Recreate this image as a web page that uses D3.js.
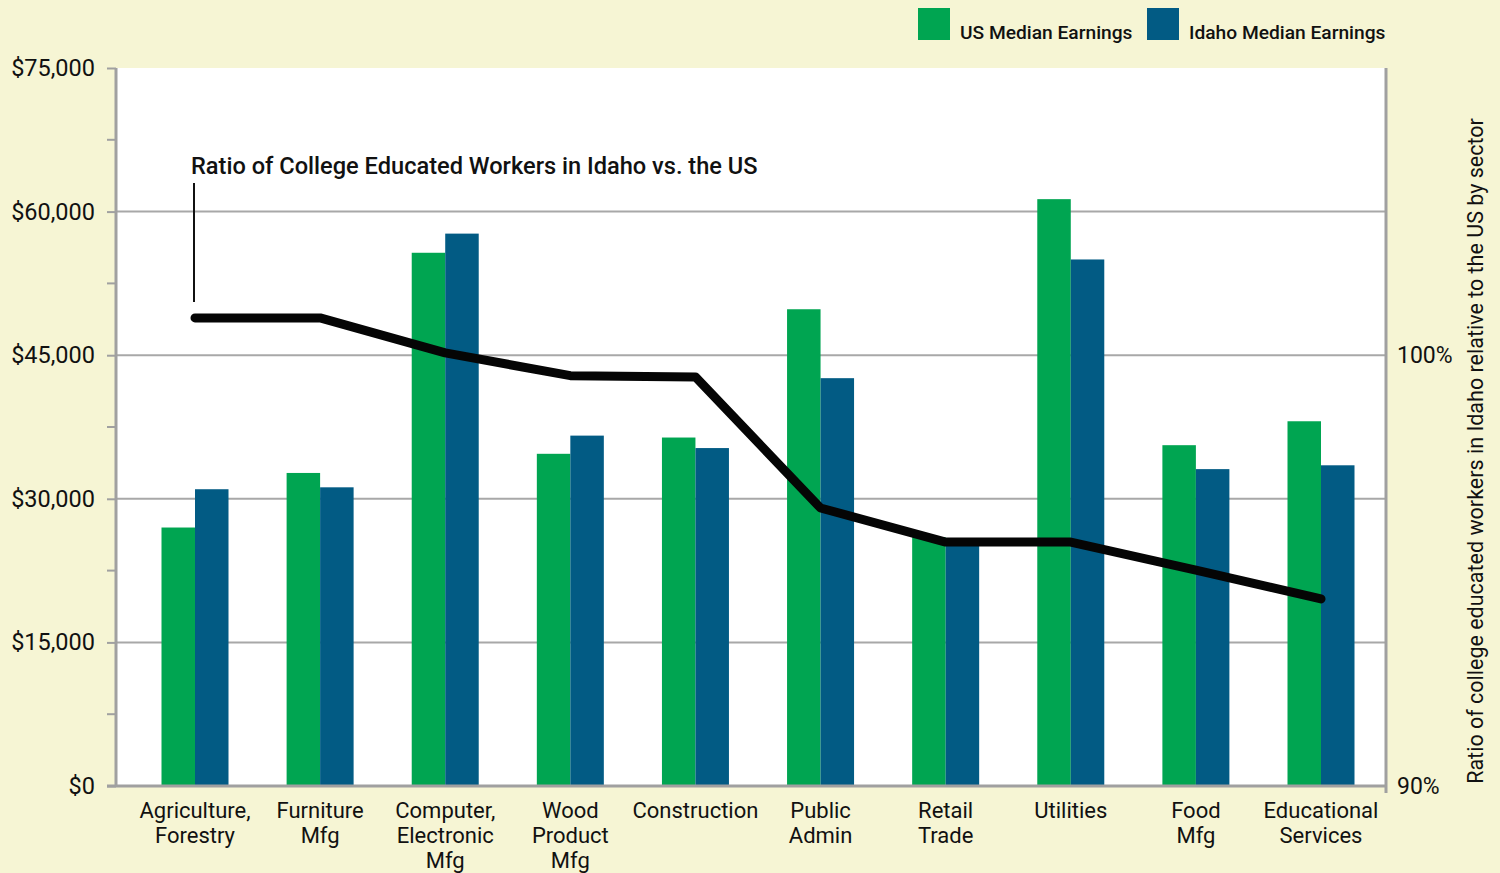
<!DOCTYPE html>
<html>
<head>
<meta charset="utf-8">
<script src="https://cdn.jsdelivr.net/npm/d3@7"></script>
<style>
  body { margin: 0; background: #f6f5d4; }
  svg { display: block; font-family: Roboto, "Noto Sans", sans-serif; }
</style>
</head>
<body>
<svg id="chart" width="1500" height="873"></svg>
<script>
// data
var sectors = [
  ["Agriculture,", "Forestry"],
  ["Furniture", "Mfg"],
  ["Computer,", "Electronic", "Mfg"],
  ["Wood", "Product", "Mfg"],
  ["Construction"],
  ["Public", "Admin"],
  ["Retail", "Trade"],
  ["Utilities"],
  ["Food", "Mfg"],
  ["Educational", "Services"]
];
var usEarnings    = [27000, 32700, 55700, 34700, 36400, 49800, 26000, 61300, 35600, 38100];
var idahoEarnings = [31000, 31200, 57700, 36600, 35300, 42600, 25300, 55000, 33100, 33500];
var ratio = [1.0086, 1.0086, 1.0005, 0.9952, 0.9949, 0.9645, 0.9566, 0.9566, 0.9501, 0.9434];
var dollarTicks = [0, 15000, 30000, 45000, 60000, 75000];
var minorTicks = [7500, 22500, 37500, 52500, 67500];
var ratioTicks = [0.9, 1.0];

var names = sectors.map(function(d) { return d.join(" "); });

var svg = d3.select("#chart");
var pLeft = 116, pRight = 1386, pTop = 68, pBottom = 786;
var barW = 33.5;

var x = d3.scalePoint().domain(names).range([195, 1321]);
var y = d3.scaleLinear().domain([0, 75000]).range([pBottom, pTop]);
var y2 = d3.scaleLinear().domain([0.9, 0.9 + 0.1 * (pBottom - pTop) / 431]).range([pBottom, pTop]);

// plot background
svg.append("rect")
  .attr("x", pLeft).attr("y", pTop)
  .attr("width", pRight - pLeft).attr("height", pBottom - pTop)
  .attr("fill", "#fff");

// gridlines
svg.append("g")
  .selectAll("line")
  .data(dollarTicks.filter(function(d) { return d > 0 && d < 75000; }))
  .enter().append("line")
  .attr("x1", pLeft).attr("x2", pRight)
  .attr("y1", function(d) { return y(d); })
  .attr("y2", function(d) { return y(d); })
  .attr("stroke", "#a8a8a8")
  .attr("stroke-width", 2);

// bars
var groups = svg.append("g").selectAll("g")
  .data(names)
  .enter().append("g");

groups.append("rect")
  .attr("x", function(d) { return x(d) - barW; })
  .attr("y", function(d, i) { return y(usEarnings[i]); })
  .attr("width", barW)
  .attr("height", function(d, i) { return pBottom - y(usEarnings[i]); })
  .attr("fill", "#00a551");

groups.append("rect")
  .attr("x", function(d) { return x(d); })
  .attr("y", function(d, i) { return y(idahoEarnings[i]); })
  .attr("width", barW)
  .attr("height", function(d, i) { return pBottom - y(idahoEarnings[i]); })
  .attr("fill", "#025b84");

// left axis
var yAxis = d3.axisLeft(y)
  .tickValues(dollarTicks)
  .tickSize(9)
  .tickPadding(12)
  .tickFormat(function(d) { return "$" + d3.format(",")(d); });

var gy = svg.append("g")
  .attr("transform", "translate(" + pLeft + ",0)")
  .call(yAxis);
gy.select(".domain").remove();
gy.selectAll(".tick line").attr("stroke", "#a0a0a0").attr("stroke-width", 2);
gy.selectAll(".tick text")
  .attr("font-size", 23.5)
  .attr("font-family", "Roboto, sans-serif")
  .attr("fill", "#111");

svg.append("g")
  .selectAll("line")
  .data(minorTicks)
  .enter().append("line")
  .attr("x1", pLeft - 9).attr("x2", pLeft)
  .attr("y1", function(d) { return y(d); })
  .attr("y2", function(d) { return y(d); })
  .attr("stroke", "#a0a0a0")
  .attr("stroke-width", 2);

// axis lines
svg.append("line")
  .attr("x1", pLeft).attr("x2", pLeft).attr("y1", pTop).attr("y2", pBottom)
  .attr("stroke", "#a0a0a0").attr("stroke-width", 3);
svg.append("line")
  .attr("x1", pLeft - 9).attr("x2", pRight).attr("y1", pBottom).attr("y2", pBottom)
  .attr("stroke", "#a0a0a0").attr("stroke-width", 3);
svg.append("line")
  .attr("x1", pRight).attr("x2", pRight).attr("y1", pTop).attr("y2", pBottom + 7)
  .attr("stroke", "#a0a0a0").attr("stroke-width", 3);

// right axis labels
svg.append("g")
  .selectAll("text")
  .data(ratioTicks)
  .enter().append("text")
  .attr("x", pRight + 11)
  .attr("y", function(d) { return y2(d); })
  .attr("dy", "0.35em")
  .attr("font-size", 23)
  .attr("fill", "#111")
  .text(function(d) { return d3.format(".0%")(d); });

svg.append("text")
  .attr("transform", "translate(1483,451) rotate(-90)")
  .attr("text-anchor", "middle")
  .attr("font-size", 21.5)
  .attr("fill", "#111")
  .text("Ratio of college educated workers in Idaho relative to the US by sector");

// category labels
var labels = svg.append("g").selectAll("text")
  .data(sectors)
  .enter().append("text")
  .attr("text-anchor", "middle")
  .attr("font-size", 22)
  .attr("fill", "#111")
  .attr("transform", function(d, i) { return "translate(" + x(names[i]) + ",818)"; });

labels.selectAll("tspan")
  .data(function(d) { return d; })
  .enter().append("tspan")
  .attr("x", 0)
  .attr("y", function(d, i) { return i * 25; })
  .text(function(d) { return d; });

// ratio line
var line = d3.line()
  .x(function(d, i) { return x(names[i]); })
  .y(function(d) { return y2(d); });

svg.append("path")
  .datum(ratio)
  .attr("d", line)
  .attr("fill", "none")
  .attr("stroke", "#050505")
  .attr("stroke-width", 9)
  .attr("stroke-linecap", "round")
  .attr("stroke-linejoin", "round");

// annotation
var ax = x(names[0]) - 1;
svg.append("line")
  .attr("x1", ax).attr("x2", ax)
  .attr("y1", 183).attr("y2", y2(ratio[0]) - 16)
  .attr("stroke", "#111").attr("stroke-width", 2);

svg.append("text")
  .attr("x", 191).attr("y", 174)
  .attr("font-size", 23.6)
  .attr("font-weight", 500)
  .attr("fill", "#111")
  .text("Ratio of College Educated Workers in Idaho vs. the US");

// legend
var legendItems = [
  { label: "US Median Earnings", color: "#00a551", x: 918 },
  { label: "Idaho Median Earnings", color: "#025b84", x: 1147 }
];
var lg = svg.append("g").selectAll("g")
  .data(legendItems)
  .enter().append("g")
  .attr("transform", function(d) { return "translate(" + d.x + ",8)"; });
lg.append("rect")
  .attr("width", 32).attr("height", 32)
  .attr("fill", function(d) { return d.color; });
lg.append("text")
  .attr("x", 42).attr("y", 31)
  .attr("font-size", 19.2)
  .attr("font-weight", 500)
  .attr("fill", "#111")
  .text(function(d) { return d.label; });
</script>
</body>
</html>
